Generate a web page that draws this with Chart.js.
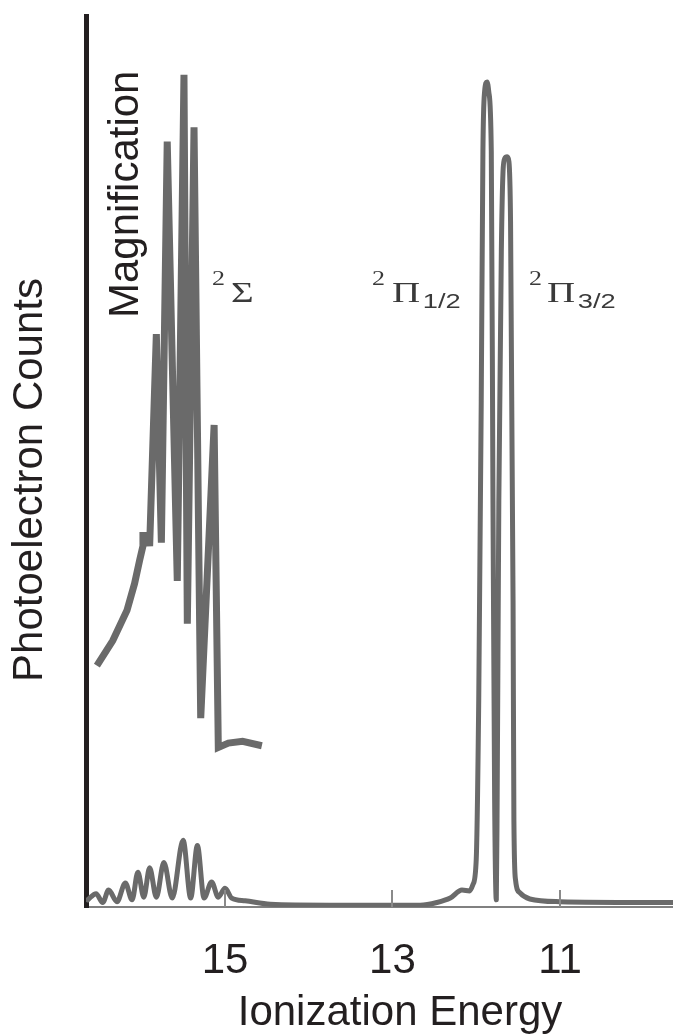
<!DOCTYPE html>
<html lang="en">
<head>
<meta charset="UTF-8">
<title>Photoelectron Spectrum</title>
<script src="https://cdn.jsdelivr.net/npm/chart.js"></script>
<style>
  html, body { margin: 0; padding: 0; background: #fff; }
  #wrap { width: 673px; height: 1034px; position: relative; }
</style>
</head>
<body>
<div id="wrap"><canvas id="pesChart"></canvas></div>
<script>
// full spectrum: ionization energy (eV) and counts (arbitrary units, 0-100)
const mainEnergy = [16.64, 16.54, 16.46, 16.39, 16.29, 16.19, 16.11, 16.04, 15.97, 15.90,
                    15.82, 15.73, 15.63, 15.50, 15.41, 15.33, 15.25, 15.16, 15.08, 15.00,
                    14.92, 14.76, 14.46, 13.75, 12.99, 12.67, 12.47, 12.31, 12.17, 12.08,
                    12.04, 12.00, 11.97, 11.94, 11.92, 11.90, 11.87, 11.85, 11.82, 11.80,
                    11.78, 11.76, 11.75, 11.73, 11.70, 11.68, 11.66, 11.63, 11.61, 11.59,
                    11.56, 11.55, 11.53, 11.48, 11.36, 11.00, 9.65];
const mainCounts = [0.8, 1.5, 0.5, 1.9, 0.6, 2.7, 0.8, 3.9, 1.1, 4.4,
                    1.1, 5.0, 1.0, 7.5, 1.0, 6.9, 1.0, 2.8, 1.1, 2.1,
                    1.0, 0.7, 0.3, 0.2, 0.2, 0.2, 0.5, 1.0, 1.9, 1.8,
                    2.5, 5.3, 23.2, 56.8, 84.8, 91.5, 92.6, 91.5, 84.8, 45.6,
                    12.0, 0.8, 12.0, 45.6, 73.6, 82.5, 84.0, 84.2, 83.7, 76.9,
                    34.4, 9.7, 3.0, 1.6, 0.9, 0.6, 0.5];

// magnified 2-Sigma band
const magEnergy = [16.53, 16.34, 16.17, 16.08, 16.02, 15.98, 15.98, 15.91, 15.90,
                   15.82, 15.76, 15.69, 15.57, 15.49, 15.45, 15.37, 15.29, 15.13, 15.08,
                   14.96, 14.79, 14.56];
const magCounts = [27.1, 29.9, 33.3, 36.3, 38.9, 40.5, 41.7, 41.7, 40.5,
                   64.3, 40.9, 85.9, 36.6, 93.4, 31.8, 87.5, 21.2, 54.1, 17.9,
                   18.4, 18.6, 18.1];

const tickValues = [15, 13, 11];

const lineGray = '#6a6a6a';
const textBlack = '#231f20';
const sansFont = '"Liberation Sans", Arial, sans-serif';
const serifFont = '"Liberation Serif", "Times New Roman", serif';

function toPoints(xs, ys) {
    return xs.map((x, i) => ({ x: x, y: ys[i] }));
}

// draws e.g. 2Π1/2 (scan is stretched a bit horizontally)
function termSymbol(ctx, x, y, letter, letterOffset, sub, subOffset) {
    ctx.save();
    ctx.translate(x, y);
    ctx.scale(1.3, 1);
    ctx.fillStyle = '#3a3a3a';
    ctx.textAlign = 'left';
    ctx.textBaseline = 'alphabetic';
    ctx.font = '20px ' + serifFont;
    ctx.fillText('2', 0, -17);
    ctx.font = '30px ' + serifFont;
    ctx.fillText(letter, letterOffset, 0);
    if (sub) {
        ctx.font = '21px ' + sansFont;
        ctx.fillText(sub, subOffset, 6);
    }
    ctx.restore();
}

const labelPlugin = {
    id: 'pesLabels',
    afterDraw(chart) {
        const ctx = chart.ctx;
        const xScale = chart.scales.x;
        const area = chart.chartArea;
        ctx.save();

        // tick marks point up into the plot
        ctx.strokeStyle = '#8a8a8a';
        ctx.lineWidth = 2;
        tickValues.forEach(v => {
            const px = Math.round(xScale.getPixelForValue(v));
            ctx.beginPath();
            ctx.moveTo(px, area.bottom);
            ctx.lineTo(px, area.bottom - 17);
            ctx.stroke();
        });

        // axis titles
        ctx.fillStyle = textBlack;
        ctx.font = '42px ' + sansFont;
        ctx.textBaseline = 'alphabetic';
        ctx.textAlign = 'center';
        ctx.fillText('Ionization Energy', 400, 1025);

        ctx.save();
        ctx.translate(42, 480);
        ctx.rotate(-Math.PI / 2);
        ctx.fillText('Photoelectron Counts', 0, 0);
        ctx.restore();

        ctx.save();
        ctx.translate(138, 318);
        ctx.rotate(-Math.PI / 2);
        ctx.textAlign = 'left';
        ctx.fillText('Magnification', 0, 0);
        ctx.restore();

        // band labels
        termSymbol(ctx, 212, 302, '\u03A3', 14.6);
        termSymbol(ctx, 372, 302, '\u03A0', 15.4, '1/2', 39);
        termSymbol(ctx, 529, 302, '\u03A0', 13.8, '3/2', 37.5);

        ctx.restore();
    }
};

new Chart(document.getElementById('pesChart').getContext('2d'), {
    type: 'line',
    data: {
        datasets: [
            {
                label: 'Spectrum',
                data: toPoints(mainEnergy, mainCounts),
                borderColor: lineGray,
                borderWidth: 5,
                pointRadius: 0,
                fill: false,
                cubicInterpolationMode: 'monotone',
                borderJoinStyle: 'round',
                borderCapStyle: 'round'
            },
            {
                label: 'Magnification',
                data: toPoints(magEnergy, magCounts),
                borderColor: lineGray,
                borderWidth: 7,
                pointRadius: 0,
                fill: false,
                tension: 0,
                borderJoinStyle: 'miter',
                borderCapStyle: 'butt'
            }
        ]
    },
    options: {
        responsive: true,
        maintainAspectRatio: false,
        animation: false,
        layout: { padding: { top: 16, right: 0, bottom: 0, left: 0 } },
        plugins: {
            legend: { display: false },
            tooltip: { enabled: false }
        },
        scales: {
            x: {
                type: 'linear',
                reverse: true,
                min: 9.65,
                max: 16.66,
                grid: { display: false },
                border: { display: true, color: '#808080', width: 2 },
                afterBuildTicks: s => { s.ticks = tickValues.map(v => ({ value: v })); },
                afterFit: s => { s.height = 127; },
                ticks: {
                    autoSkip: false,
                    maxRotation: 0,
                    padding: 21,
                    color: textBlack,
                    font: { family: sansFont, size: 42 }
                }
            },
            y: {
                min: 0,
                max: 100,
                grid: { display: false },
                border: { display: true, color: textBlack, width: 5 },
                afterFit: s => { s.width = 86; },
                ticks: { display: false }
            }
        }
    },
    plugins: [labelPlugin]
});
</script>
</body>
</html>
